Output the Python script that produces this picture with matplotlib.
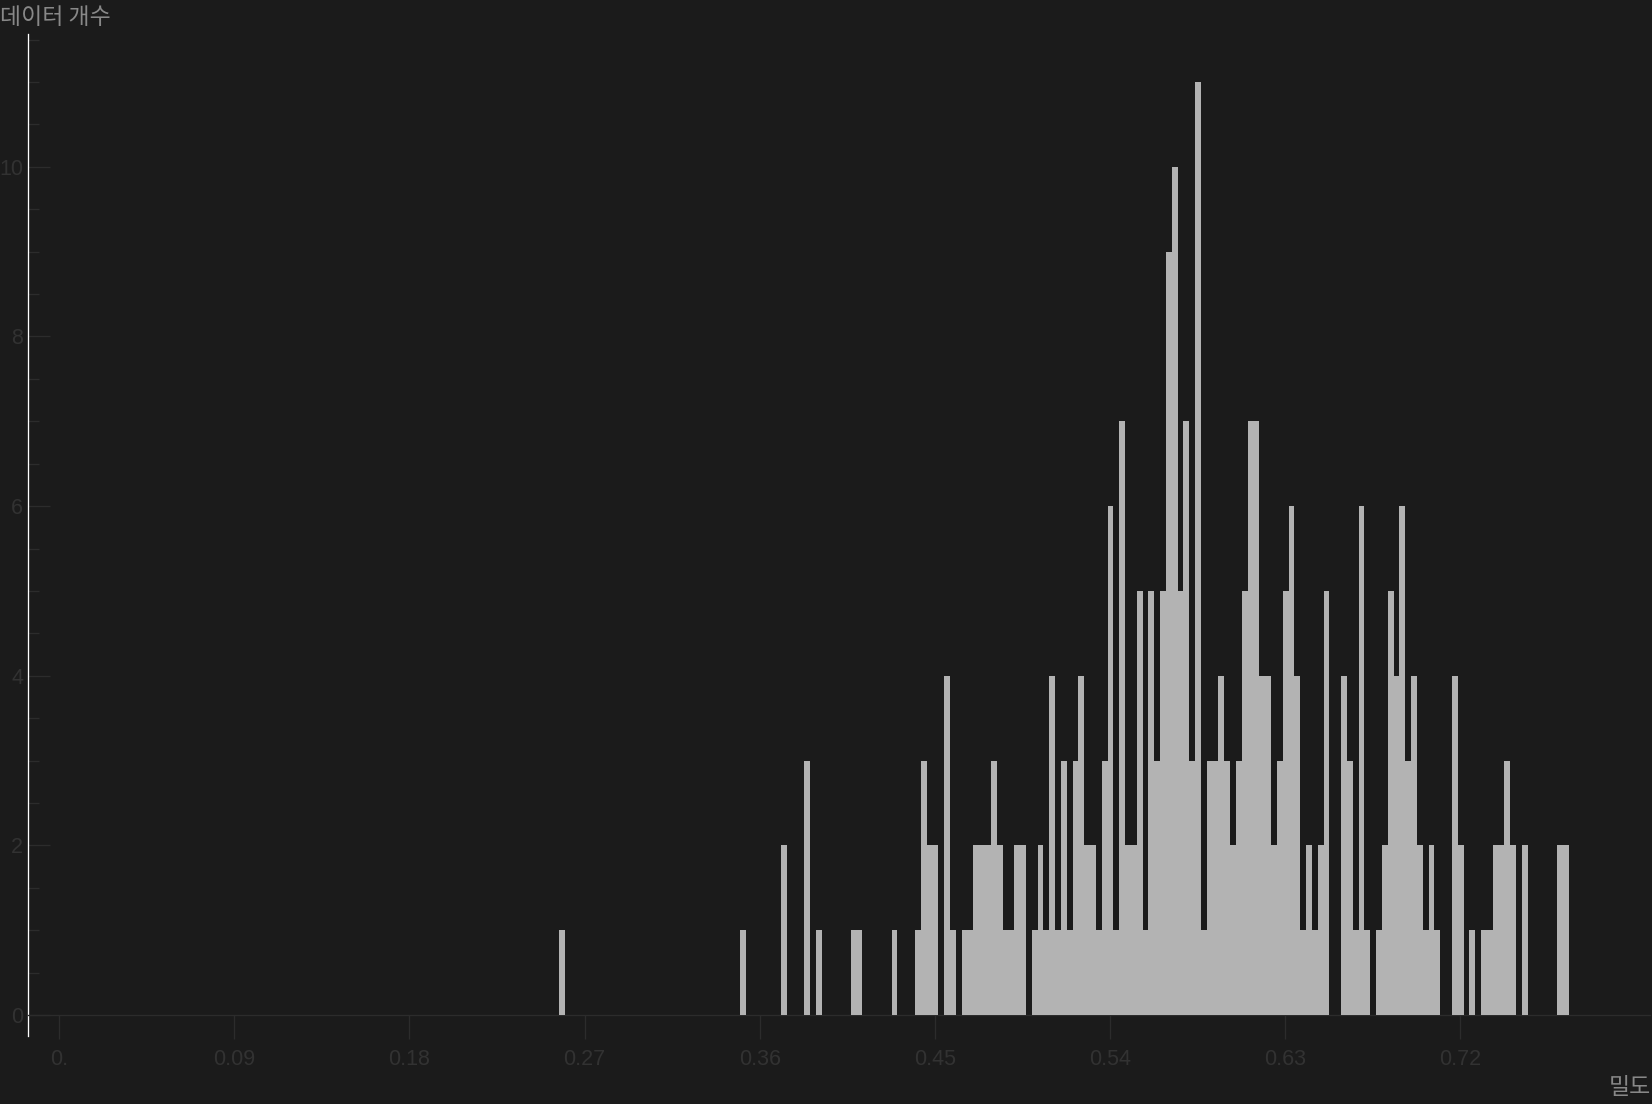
import matplotlib
matplotlib.use("Agg")
import matplotlib.pyplot as plt
import numpy as np

# ---- data ----
bin_start = 0.2568
bin_width = 0.003
counts = [
    1, 0, 0, 0, 0, 0, 0, 0, 0, 0,   # k0-9
    0, 0, 0, 0, 0, 0, 0, 0, 0, 0,   # k10-19
    0, 0, 0, 0, 0, 0, 0, 0, 0, 0,   # k20-29
    0, 1, 0, 0, 0, 0, 0, 0, 2, 0,   # k30-39
    0, 0, 3, 0, 1, 0, 0, 0, 0, 0,   # k40-49
    1, 1, 0, 0, 0, 0, 0, 1, 0, 0,   # k50-59
    0, 1, 3, 2, 2, 0, 4, 1, 0, 1,   # k60-69
    1, 2, 2, 2, 3, 2, 1, 1, 2, 2,   # k70-79
    0, 1, 2, 1, 4, 1, 3, 1, 3, 4,   # k80-89
    2, 2, 1, 3, 6, 1, 7, 2, 2, 5,   # k90-99
    1, 5, 3, 5, 9, 10, 5, 7, 3, 11, # k100-109
    1, 3, 3, 4, 3, 2, 3, 5, 7, 7,   # k110-119
    4, 4, 2, 3, 5, 6, 4, 1, 2, 1,   # k120-129
    2, 5, 0, 0, 4, 3, 1, 6, 1, 0,   # k130-139
    1, 2, 5, 4, 6, 3, 4, 2, 1, 2,   # k140-149
    1, 0, 0, 4, 2, 0, 1, 0, 1, 1,   # k150-159
    2, 2, 3, 2, 0, 2, 0, 0, 0, 0,   # k160-169
    0, 2, 2,                        # k170-172
]
x_ticks = [0.0, 0.09, 0.18, 0.27, 0.36, 0.45, 0.54, 0.63, 0.72]
x_tick_labels = ["0.", "0.09", "0.18", "0.27", "0.36", "0.45", "0.54", "0.63", "0.72"]
y_major = [0, 2, 4, 6, 8, 10]
y_major_labels = ["0", "2", "4", "6", "8", "10"]
y_minor = [v * 0.5 for v in range(0, 24)]
y_title = "데이터 개수"
x_title = "밀도"

# ---- style ----
BG = "#1b1b1b"
BAR = "#b3b3b3"
DIM = "#2c2c2c"
LABEL_DIM = "#323232"
TITLE = "#888888"
PX = 72.0 / 100.0  # points per pixel

W, H = 1652, 1104
fig = plt.figure(figsize=(W / 100, H / 100), dpi=100, facecolor=BG)
left_px, right_px = 28.3, 1650.0
top_px, bottom_px = 33.7, 1036.0
ax = fig.add_axes([left_px / W, (H - bottom_px) / H,
                   (right_px - left_px) / W, (bottom_px - top_px) / H])
ax.set_facecolor(BG)

edges = bin_start + bin_width * np.arange(len(counts))
ax.bar(edges, counts, width=bin_width, align="edge", color=BAR,
       linewidth=0, antialiased=False, zorder=3)

ax.set_xlim(-0.01593, 0.8176)
ax.set_ylim(-0.2476, 11.57)

for s in ("top", "right"):
    ax.spines[s].set_visible(False)
ax.spines["left"].set_color("#ffffff")
ax.spines["left"].set_linewidth(1.3 * PX)
ax.spines["bottom"].set_position(("data", 0))
ax.spines["bottom"].set_color(DIM)
ax.spines["bottom"].set_linewidth(1.3 * PX)

ax.set_xticks(x_ticks)
ax.set_xticklabels(x_tick_labels, fontfamily="Liberation Sans")
ax.tick_params(axis="x", which="major", direction="out", length=24 * PX,
               width=1.3 * PX, color=DIM, labelcolor=LABEL_DIM,
               labelsize=15.5, pad=7.5)

ax.set_yticks(y_major)
ax.set_yticklabels(y_major_labels, fontfamily="Liberation Sans")
ax.set_yticks([v for v in y_minor if v not in y_major], minor=True)
ax.tick_params(axis="y", which="major", direction="in", length=22 * PX,
               width=1.3 * PX, color=DIM, labelcolor=LABEL_DIM,
               labelsize=15.5, pad=5 * PX)
ax.tick_params(axis="y", which="minor", direction="in", length=11 * PX,
               width=1.3 * PX, color=DIM)

fig.text(0.0, 1 - 17.5 / H, y_title, ha="left", va="center", color=TITLE,
         fontsize=16.5, fontfamily=["Noto Sans CJK KR", "DejaVu Sans"])
fig.text(1651 / W, 1 - 1088 / H, x_title, ha="right", va="center",
         color=TITLE, fontsize=16.5,
         fontfamily=["Noto Sans CJK KR", "DejaVu Sans"])

fig.savefig("out.png", dpi=100, facecolor=BG)
